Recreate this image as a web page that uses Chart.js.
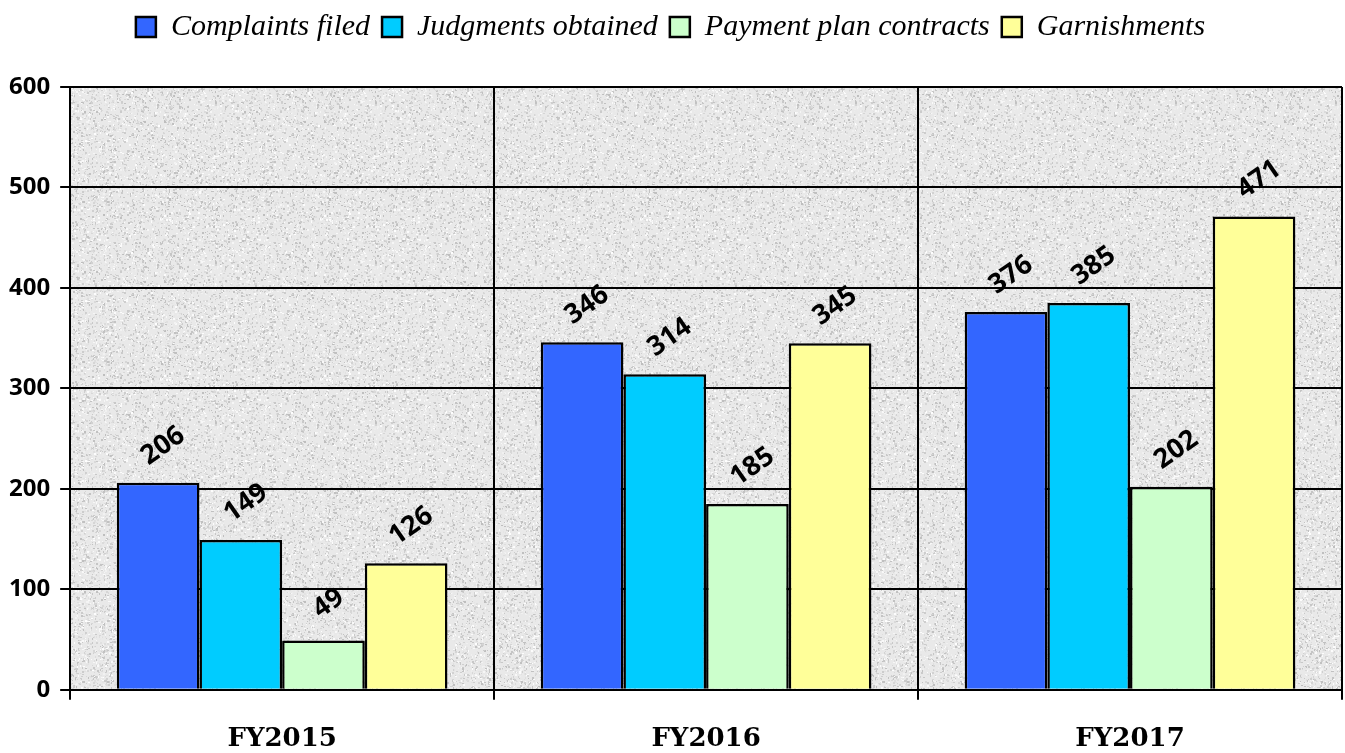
<!DOCTYPE html>
<html lang="en">
<head>
  <meta charset="UTF-8" />
  <title>Collections chart</title>
  <script src="https://cdn.jsdelivr.net/npm/chart.js"></script>
  <style>
    body { margin: 0; background: #fff; }
  </style>
</head>
<body>
  <canvas id="chart" width="1345" height="753"></canvas>
  <script>
    const years = ['FY2015', 'FY2016', 'FY2017'];
    const complaints = [206, 346, 376];
    const judgments = [149, 314, 385];
    const paymentPlans = [49, 185, 202];
    const garnishments = [126, 345, 471];
    const yTicks = [0, 100, 200, 300, 400, 500, 600];

    // speckled grey texture for the plot area
    function makeTexture() {
      const c = document.createElement('canvas');
      c.width = 160; c.height = 160;
      const g = c.getContext('2d');
      g.fillStyle = '#e9e9e9';
      g.fillRect(0, 0, 160, 160);
      let s = 12345;
      const rnd = () => { s = (s * 16807) % 2147483647; return s / 2147483647; };
      for (let i = 0; i < 5000; i++) {
        const v = 190 + Math.floor(rnd() * 65);
        g.fillStyle = `rgb(${v},${v},${v})`;
        g.fillRect(Math.floor(rnd() * 160), Math.floor(rnd() * 160), 1 + Math.floor(rnd() * 2), 1 + Math.floor(rnd() * 2));
      }
      return c;
    }

    const plotBg = {
      id: 'plotBg',
      beforeDraw(chart) {
        const { ctx, chartArea: a } = chart;
        ctx.save();
        ctx.fillStyle = ctx.createPattern(makeTexture(), 'repeat');
        ctx.fillRect(a.left, a.top, a.right - a.left, a.bottom - a.top);
        ctx.restore();
      }
    };

    // more room between legend and plot
    const legendGap = {
      id: 'legendGap',
      beforeInit(chart) {
        const fit = chart.legend.fit;
        chart.legend.fit = function () {
          fit.bind(chart.legend)();
          this.height += 35;
        };
      }
    };

    const valueLabels = {
      id: 'valueLabels',
      afterDatasetsDraw(chart) {
        const ctx = chart.ctx;
        ctx.save();
        ctx.font = 'bold 27px "Open Sans"';
        ctx.fillStyle = '#000';
        ctx.textAlign = 'center';
        ctx.textBaseline = 'middle';
        chart.data.datasets.forEach((ds, i) => {
          chart.getDatasetMeta(i).data.forEach((bar, j) => {
            ctx.save();
            ctx.translate(bar.x + 5, bar.y - 37);
            ctx.rotate(-35 * Math.PI / 180);
            ctx.fillText(ds.data[j], 0, 0);
            ctx.restore();
          });
        });
        ctx.restore();
      }
    };

    const mk = (label, data, color) => ({
      label, data, backgroundColor: color, borderColor: '#000', borderWidth: 2.5,
      categoryPercentage: 0.78, barPercentage: 1.0
    });

    new Chart(document.getElementById('chart'), {
      type: 'bar',
      data: {
        labels: years,
        datasets: [
          mk('Complaints filed', complaints, '#3366ff'),
          mk('Judgments obtained', judgments, '#00ccff'),
          mk('Payment plan contracts', paymentPlans, '#ccffcc'),
          mk('Garnishments', garnishments, '#ffff99')
        ]
      },
      options: {
        responsive: false,
        animation: false,
        layout: { padding: { left: -1, right: 3, top: 0, bottom: -26 } },
        plugins: {
          tooltip: { enabled: false },
          legend: {
            position: 'top',
            labels: {
              boxWidth: 20, boxHeight: 20, padding: 12, color: '#000',
              font: { family: '"Liberation Serif"', style: 'italic', size: 30 }
            }
          }
        },
        scales: {
          x: {
            grid: { color: '#000', lineWidth: 2, offset: true, tickLength: 10 },
            border: { color: '#000', width: 2 },
            ticks: { color: '#000', padding: 24, font: { family: '"DejaVu Serif"', weight: 'bold', size: 26 } }
          },
          y: {
            min: 0, max: 600,
            afterBuildTicks(axis) { axis.ticks = yTicks.map(v => ({ value: v })); },
            grid: { color: '#000', lineWidth: 2, tickLength: 10 },
            border: { color: '#000', width: 2 },
            ticks: { color: '#000', padding: 10, font: { family: '"Open Sans"', weight: 'bold', size: 24 } }
          }
        }
      },
      plugins: [legendGap, plotBg, valueLabels]
    });
  </script>
</body>
</html>
